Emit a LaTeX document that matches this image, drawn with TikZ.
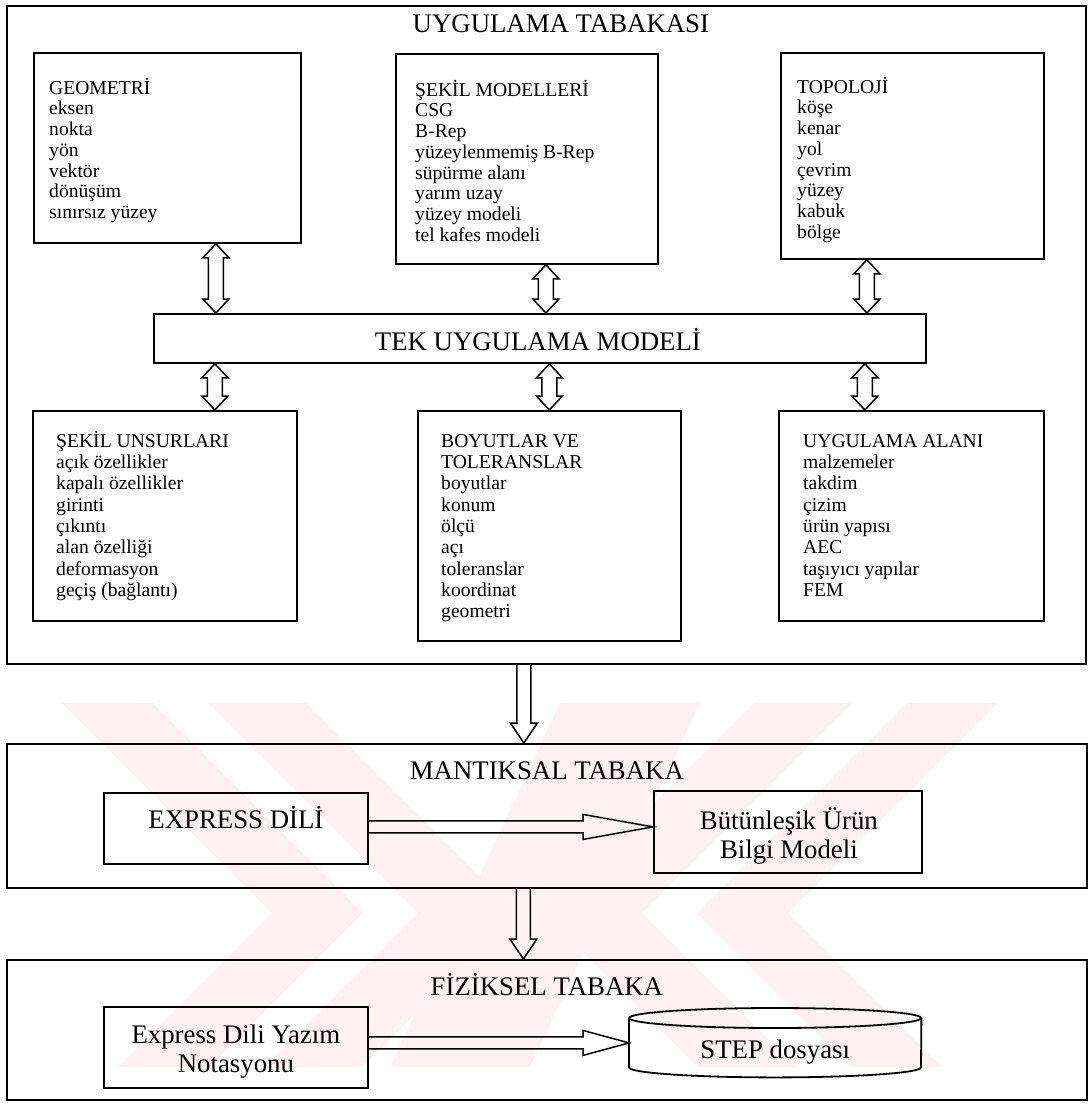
\documentclass[tikz,border=0pt]{standalone}
\usepackage{fontspec}
\setmainfont{Liberation Serif}
\usetikzlibrary{calc}

\definecolor{wmpink}{RGB}{254,240,243}

\newcommand\bodyfont{\fontsize{19.6}{20.7}\selectfont}
\newcommand\bodyfontb{\fontsize{19.6}{21.3}\selectfont}
\newcommand\titlefont{\fontsize{26.8}{29}\selectfont}
\newcommand\lnstart{\rule{0pt}{18pt}}
\newcommand\bigstart{\rule{0pt}{22pt}}

\tikzset{
  frame/.style={draw, line width=1.8pt, inner sep=0pt, rectangle, anchor=north west},
  listtext/.style={inner sep=0pt, anchor=north west, align=left},
  bigtext/.style={inner sep=0pt, font=\titlefont},
  hollow/.style={draw, line width=1.5pt, line join=miter},
}

% double-headed hollow arrow: #1 gives x, #2 gives top y, #3 gives bottom y
\newcommand\vdoublearrow[3]{%
  \draw[hollow] let \p1=#1, \p2=#2, \p3=#3 in
    (\x1,\y2) -- (\x1+13pt,\y2-14pt) -- (\x1+7.5pt,\y2-14pt) -- (\x1+7.5pt,\y3+14pt)
    -- (\x1+13pt,\y3+14pt) -- (\x1,\y3) -- (\x1-13pt,\y3+14pt) -- (\x1-7.5pt,\y3+14pt)
    -- (\x1-7.5pt,\y2-14pt) -- (\x1-13pt,\y2-14pt) -- cycle;}

% single hollow arrow pointing down
\newcommand\vsinglearrow[3]{%
  \draw[hollow] let \p1=#1, \p2=#2, \p3=#3 in
    (\x1-7pt,\y2) -- (\x1-7pt,\y3+20pt) -- (\x1-13.5pt,\y3+20pt) -- (\x1,\y3)
    -- (\x1+13.5pt,\y3+20pt) -- (\x1+7pt,\y3+20pt) -- (\x1+7pt,\y2);}

% single hollow arrow pointing right: #1 gives y, #2 left x, #3 right x, #4 head length
\newcommand\hsinglearrow[4]{%
  \draw[hollow] let \p1=#1, \p2=#2, \p3=#3 in
    (\x2,\y1+6pt) -- (\x3-#4,\y1+6pt) -- (\x3-#4,\y1+12.5pt) -- (\x3,\y1)
    -- (\x3-#4,\y1-12.5pt) -- (\x3-#4,\y1-6pt) -- (\x2,\y1-6pt);}

\begin{document}
\begin{tikzpicture}[x=1pt,y=-1pt]
\useasboundingbox (0,0) rectangle (1090,1104);

% faint background emblem
\begin{scope}
  \clip (55,703) rectangle (1010,1067);
  \fill[wmpink] (62,703) -- (153,703) -- (363,913) -- (209,1067) -- (118,1067) -- (272,913) -- cycle;
  \fill[wmpink] (208,703) -- (306,703) -- (516,913) -- (362,1067) -- (264,1067) -- (418,913) -- cycle;
  \fill[wmpink] (998,703) -- (907,703) -- (697,913) -- (851,1067) -- (942,1067) -- (788,913) -- cycle;
  \fill[wmpink] (852,703) -- (754,703) -- (544,913) -- (698,1067) -- (796,1067) -- (642,913) -- cycle;
  \fill[wmpink] (560,703) -- (700,703) -- (530,1067) -- (390,1067) -- cycle;
\end{scope}

% ---------- application layer ----------
\node[frame, minimum width=1079pt, minimum height=658pt] (app) at (6,5) {};
\node[bigtext, anchor=base] (appt) at ([shift={(14.5,27)}]app.north) {UYGULAMA TABAKASI};

\node[frame, minimum width=267pt, minimum height=190pt] (geo) at (33,52) {};
\node[listtext, font=\bodyfont] (geot) at ([shift={(16,24)}]geo.north west)
  {\lnstart GEOMETRİ\\eksen\\nokta\\yön\\vektör\\dönüşüm\\sınırsız yüzey};

\node[frame, minimum width=262pt, minimum height=210pt] (shm) at (395,53) {};
\node[listtext, font=\bodyfont] (shmt) at ([shift={(20,25)}]shm.north west)
  {\lnstart ŞEKİL MODELLERİ\\CSG\\B-Rep\\yüzeylenmemiş B-Rep\\süpürme alanı\\yarım uzay\\yüzey modeli\\tel kafes modeli};

\node[frame, minimum width=263pt, minimum height=206pt] (topo) at (780,52) {};
\node[listtext, font=\bodyfont] (topot) at ([shift={(17,23)}]topo.north west)
  {\lnstart TOPOLOJİ\\köşe\\kenar\\yol\\çevrim\\yüzey\\kabuk\\bölge};

\node[frame, minimum width=772pt, minimum height=49pt] (tek) at (153,313) {};
\node[bigtext, anchor=base] (tekt) at ([shift={(-2,12.5)}]tek.center) {TEK UYGULAMA MODELİ};

\node[frame, minimum width=264pt, minimum height=210pt] (unsur) at (32,410) {};
\node[listtext, font=\bodyfontb] (unsurt) at ([shift={(24,19)}]unsur.north west)
  {\lnstart ŞEKİL UNSURLARI\\açık özellikler\\kapalı özellikler\\girinti\\çıkıntı\\alan özelliği\\deformasyon\\geçiş (bağlantı)};

\node[frame, minimum width=263pt, minimum height=230pt] (boyut) at (417,410) {};
\node[listtext, font=\bodyfontb] (boyutt) at ([shift={(24,19)}]boyut.north west)
  {\lnstart BOYUTLAR VE\\TOLERANSLAR\\boyutlar\\konum\\ölçü\\açı\\toleranslar\\koordinat\\geometri};

\node[frame, minimum width=265pt, minimum height=210pt] (alan) at (778,410) {};
\node[listtext, font=\bodyfontb] (alant) at ([shift={(25,19)}]alan.north west)
  {\lnstart UYGULAMA ALANI\\malzemeler\\takdim\\çizim\\ürün yapısı\\AEC\\taşıyıcı yapılar\\FEM};

% links to the single application model
\vdoublearrow{([xshift=48.5pt]geo.south)}{(geo.south)}{(tek.north)}
\vdoublearrow{([xshift=19pt]shm.south)}{(shm.south)}{(tek.north)}
\vdoublearrow{([xshift=-45.5pt]topo.south)}{(topo.south)}{(tek.north)}
\vdoublearrow{([xshift=50pt]unsur.north)}{(tek.south)}{(unsur.north)}
\vdoublearrow{(boyut.north)}{(tek.south)}{(boyut.north)}
\vdoublearrow{([xshift=-46.5pt]alan.north)}{(tek.south)}{(alan.north)}

% ---------- logical layer ----------
\node[frame, minimum width=1080pt, minimum height=144pt] (mant) at (6,743) {};
\node[bigtext, anchor=base] (mantt) at ([shift={(0,36)}]mant.north) {MANTIKSAL TABAKA};

\node[frame, minimum width=264pt, minimum height=71pt] (expr) at (103,792) {};
\node[bigtext, anchor=base] (exprt) at (expr.center) {EXPRESS DİLİ};

\node[frame, minimum width=268pt, minimum height=82pt] (bilgi) at (653,790) {};
\node[bigtext, anchor=north, align=center] (bilgit) at ([shift={(1,-25)}]bilgi.center)
  {\bigstart Bütünleşik Ürün\\Bilgi Modeli};

\vsinglearrow{([xshift=-22.5pt]app.south)}{(app.south)}{(mant.north)}
\hsinglearrow{([yshift=1.5pt]expr.east)}{(expr.east)}{(bilgi.west)}{70pt}

% ---------- physical layer ----------
\node[frame, minimum width=1080pt, minimum height=140pt] (fiz) at (6,959) {};
\node[bigtext, anchor=base] (fizt) at ([shift={(0,36)}]fiz.north) {FİZİKSEL TABAKA};

\node[frame, minimum width=264pt, minimum height=81pt] (notas) at (103,1006) {};
\node[bigtext, anchor=north, align=center] (notast) at ([shift={(0,-26.5)}]notas.center)
  {\bigstart Express Dili Yazım\\Notasyonu};

% STEP file drum
\node[inner sep=0pt, minimum width=292pt, minimum height=69pt, anchor=north west] (stepc) at (629,1008) {};
\draw[line width=1.8pt] (stepc.north) ++(0,10) ellipse [x radius=146pt, y radius=10pt];
\draw[line width=1.8pt] ([yshift=-10pt]stepc.north west) -- ([yshift=10pt]stepc.south west)
  arc[start angle=180, end angle=360, x radius=146pt, y radius=10pt] -- ([yshift=-10pt]stepc.north east);
\node[bigtext, anchor=base] (stept) at ([yshift=-15.5pt]stepc.center) {STEP dosyası};

\vsinglearrow{([xshift=-23.5pt]mant.south)}{(mant.south)}{(fiz.north)}
\hsinglearrow{([yshift=4.5pt]notas.east)}{(notas.east)}{(stepc.west)}{46pt}

\end{tikzpicture}
\end{document}
